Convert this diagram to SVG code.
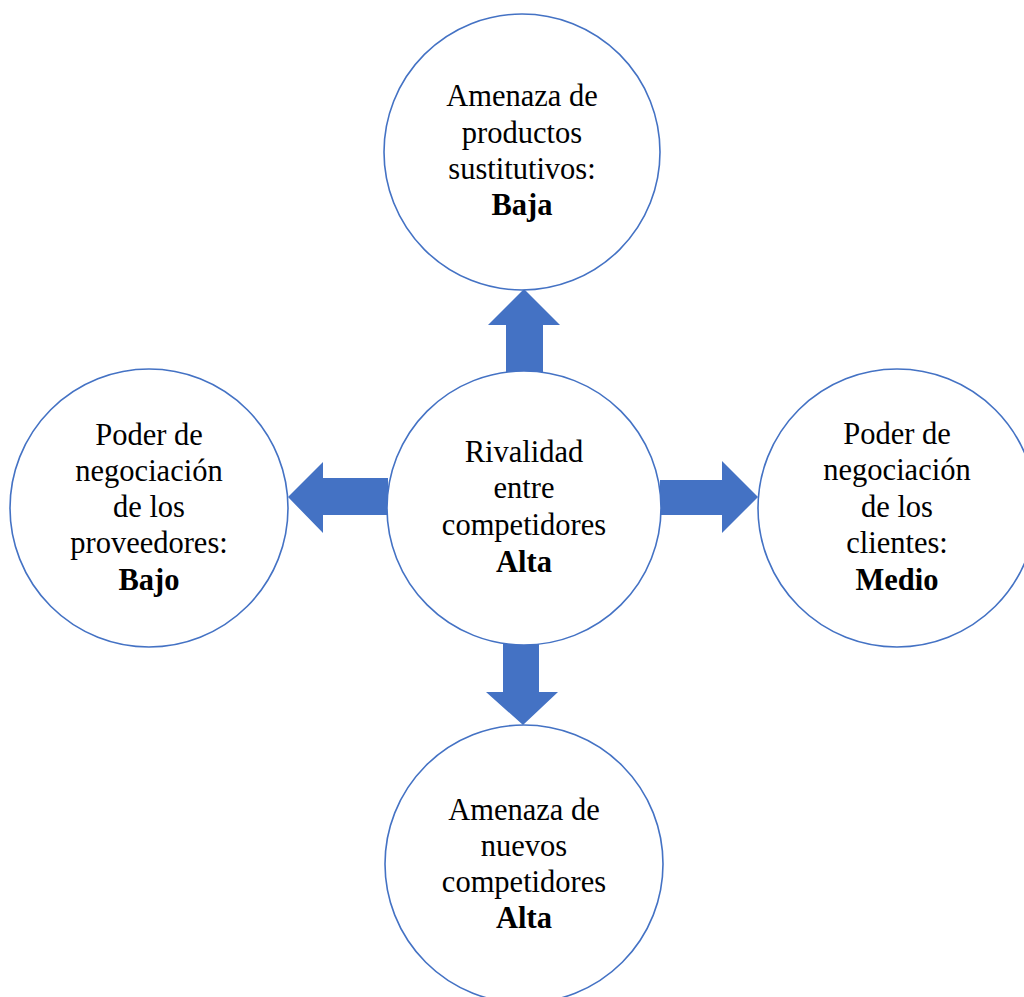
<svg xmlns="http://www.w3.org/2000/svg" width="1024" height="997" viewBox="0 0 1024 997">
<style>
.node{fill:#ffffff;stroke:#4472c4;stroke-width:1.6}
.arrow{fill:#4472c4;stroke:none}
text{font-family:"Liberation Serif","Times New Roman",serif;font-size:30.5px;fill:#000;text-anchor:middle}
.b{font-weight:bold}
</style>
<rect width="1024" height="997" fill="#ffffff"/>
<g id="connectors">
<polygon class="arrow" points="506,372 506,325 488,325 524,289 560,325 543,325 543,372"/>
<polygon class="arrow" points="388,478 323,478 323,462 288,497 323,533 323,515 388,515"/>
<polygon class="arrow" points="660,480 722,480 722,461 758,497 722,533 722,515 660,515"/>
<polygon class="arrow" points="503,644 503,692 486,692 523,725 558,692 539,692 539,644"/>
</g>
<g id="node-top">
<circle class="node" cx="522" cy="152" r="138"/>
<text x="522" y="106">Amenaza de</text>
<text x="522" y="143">productos</text>
<text x="522" y="179">sustitutivos:</text>
<text x="522" y="215" class="b">Baja</text>
</g>
<g id="node-center">
<circle class="node" cx="524" cy="508" r="137"/>
<text x="524" y="462">Rivalidad</text>
<text x="524" y="498">entre</text>
<text x="524" y="535">competidores</text>
<text x="524" y="572" class="b">Alta</text>
</g>
<g id="node-left">
<circle class="node" cx="149" cy="508" r="139"/>
<text x="149" y="445">Poder de</text>
<text x="149" y="481">negociación</text>
<text x="149" y="517">de los</text>
<text x="149" y="553">proveedores:</text>
<text x="149" y="590" class="b">Bajo</text>
</g>
<g id="node-right">
<circle class="node" cx="897" cy="508" r="139"/>
<text x="897" y="444">Poder de</text>
<text x="897" y="480">negociación</text>
<text x="897" y="517">de los</text>
<text x="897" y="553">clientes:</text>
<text x="897" y="590" class="b">Medio</text>
</g>
<g id="node-bottom">
<circle class="node" cx="524" cy="864" r="139"/>
<text x="524" y="820">Amenaza de</text>
<text x="524" y="856">nuevos</text>
<text x="524" y="892">competidores</text>
<text x="524" y="928" class="b">Alta</text>
</g>
</svg>
